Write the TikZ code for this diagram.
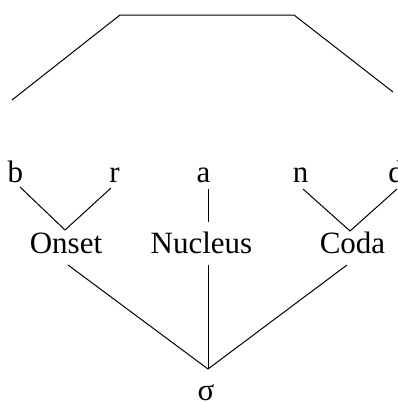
\documentclass[tikz,border=0pt]{standalone}
\usepackage{fontspec}
\setmainfont{Liberation Serif}
\begin{document}
\begin{tikzpicture}[x=1pt,y=-1pt,
  lbl/.style={anchor=base,inner sep=0pt,font=\fontsize{31}{37}\selectfont},
  ln/.style={line width=1pt,line cap=butt}]
\useasboundingbox (0,0) rectangle (398,402);
% labels
\node[lbl] (b) at (15.5,182) {b};
\node[lbl] (r) at (114.5,182) {r};
\node[lbl] (a) at (203.5,182) {a};
\node[lbl] (n) at (300.5,182) {n};
\node[lbl] (d) at (396,182) {d};
\node[lbl] (onset) at (66,253) {Onset};
\node[lbl] (nucleus) at (201.5,253) {Nucleus};
\node[lbl] (coda) at (352.5,253) {Coda};
\node[lbl] (sigma) at (206,400) {σ};
% connector points
\coordinate (bL) at (20,187);
\coordinate (rL) at (111,188);
\coordinate (onTop) at (65,230);
\coordinate (aL) at (208,189);
\coordinate (nuTop) at (208,222);
\coordinate (nL) at (303,189);
\coordinate (dL) at (397,189);
\coordinate (coTop) at (350,231);
\coordinate (onBot) at (68,265);
\coordinate (nuBot) at (208,265);
\coordinate (coBot) at (347,265);
\coordinate (sg) at (208,369);
\coordinate (t1) at (12,100);
\coordinate (t2) at (120,15);
\coordinate (t3) at (294,15);
\coordinate (t4) at (393,92);
% connectors
\draw[ln] (bL) -- (onTop) -- (rL);
\draw[ln] (aL) -- (nuTop);
\draw[ln] (nL) -- (coTop) -- (dL);
\draw[ln] (onBot) -- (sg);
\draw[ln] (nuBot) -- (sg);
\draw[ln] (coBot) -- (sg);
\draw[ln,line join=miter] (t1) -- (t2) -- (t3) -- (t4);
\end{tikzpicture}
\end{document}
